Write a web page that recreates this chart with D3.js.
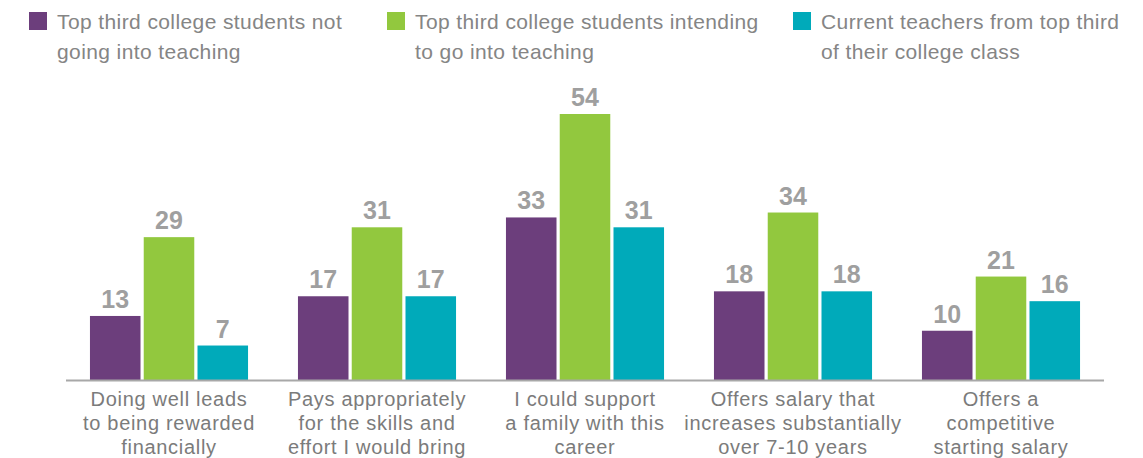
<!DOCTYPE html>
<html>
<head>
<meta charset="utf-8">
<script src="https://cdn.jsdelivr.net/npm/d3@7"></script>
<style>
    body { margin: 0; background: #fff; }
    svg { display: block; font-family: "Liberation Sans", Arial, sans-serif; }
</style>
</head>
<body>
<svg id="chart" width="1143" height="458"></svg>
<script>
// categories, one line per row of the label
var categories = [
    ["Doing well leads", "to being rewarded", "financially"],
    ["Pays appropriately", "for the skills and", "effort I would bring"],
    ["I could support", "a family with this", "career"],
    ["Offers salary that", "increases substantially", "over 7-10 years"],
    ["Offers a", "competitive", "starting salary"]
];
var seriesNames = [
    ["Top third college students not", "going into teaching"],
    ["Top third college students intending", "to go into teaching"],
    ["Current teachers from top third", "of their college class"]
];
var notTeaching = [13, 17, 33, 18, 10];
var intendTeaching = [29, 31, 54, 34, 21];
var currentTeachers = [7, 17, 31, 18, 16];
var colors = ["#6c3e7c", "#92c83e", "#00aaba"];

var seriesValues = [notTeaching, intendTeaching, currentTeachers];

var svg = d3.select("#chart");
var baseY = 380;

var x0 = d3.scaleBand()
    .domain(d3.range(categories.length))
    .range([65, 1105])
    .paddingInner(0.24)
    .paddingOuter(0.12);

var x1 = d3.scaleBand()
    .domain(d3.range(seriesValues.length))
    .range([0, x0.bandwidth()])
    .paddingInner(0.06);

var y = d3.scaleLinear()
    .domain([0, 54])
    .range([baseY, 114]);

// flatten to rows for binding
var rows = [];
categories.forEach(function (c, i) {
    seriesValues.forEach(function (s, j) {
        rows.push({ cat: i, ser: j, value: s[i] });
    });
});

var groups = svg.append("g");

groups.selectAll("rect")
    .data(rows)
    .enter()
    .append("rect")
    .attr("x", function (d) { return x0(d.cat) + x1(d.ser); })
    .attr("y", function (d) { return y(d.value); })
    .attr("width", x1.bandwidth())
    .attr("height", function (d) { return baseY - y(d.value); })
    .attr("fill", function (d) { return colors[d.ser]; });

// value labels
groups.selectAll("text.val")
    .data(rows)
    .enter()
    .append("text")
    .attr("class", "val")
    .attr("x", function (d) { return x0(d.cat) + x1(d.ser) + x1.bandwidth() / 2; })
    .attr("y", function (d) { return y(d.value) - 8; })
    .attr("text-anchor", "middle")
    .attr("font-size", 25)
    .attr("font-weight", "bold")
    .attr("fill", "#9f9f9f")
    .text(function (d) { return d.value; });

// baseline
svg.append("line")
    .attr("x1", 66).attr("x2", 1104)
    .attr("y1", baseY + 0.5).attr("y2", baseY + 0.5)
    .attr("stroke", "#a8a8a8")
    .attr("stroke-width", 2);

// category labels
var catText = svg.selectAll("text.cat")
    .data(categories)
    .enter()
    .append("text")
    .attr("class", "cat")
    .attr("text-anchor", "middle")
    .attr("font-size", 20)
    .attr("letter-spacing", 0.7)
    .attr("fill", "#7b7b7b");

catText.selectAll("tspan")
    .data(function (d, i) { return d.map(function (t) { return { t: t, i: i }; }); })
    .enter()
    .append("tspan")
    .attr("x", function (d) { return x0(d.i) + x0.bandwidth() / 2; })
    .attr("y", function (d, k) { return 406 + 24 * k; })
    .text(function (d) { return d.t; });

// legend
var legendX = [29, 387, 793];
var legend = svg.selectAll("g.legend")
    .data(seriesNames)
    .enter()
    .append("g")
    .attr("class", "legend")
    .attr("transform", function (d, i) { return "translate(" + legendX[i] + ",0)"; });

legend.append("rect")
    .attr("x", 0).attr("y", 12)
    .attr("width", 18).attr("height", 18)
    .attr("fill", function (d, i) { return colors[i]; });

legend.append("text")
    .attr("font-size", 21)
    .attr("letter-spacing", 0.4)
    .attr("fill", "#858585")
    .selectAll("tspan")
    .data(function (d) { return d; })
    .enter()
    .append("tspan")
    .attr("x", 28)
    .attr("y", function (d, k) { return 29 + 30 * k; })
    .text(function (d) { return d; });
</script>
</body>
</html>
